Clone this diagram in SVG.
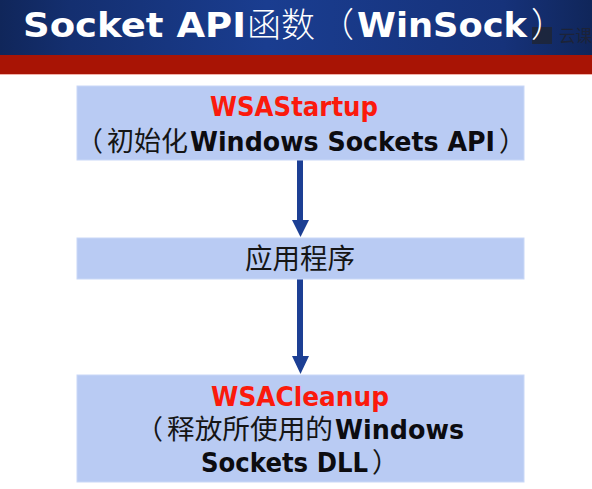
<svg xmlns="http://www.w3.org/2000/svg" width="592" height="489" viewBox="0 0 592 489">
<style>
.b{fill:#b9cbf3;stroke:#c9d8f7;stroke-width:1}
.l{font-family:"DejaVu Sans","Liberation Sans",sans-serif;font-weight:700;font-size:26px}
.c{font-family:"Noto Sans CJK SC","DejaVu Sans",sans-serif;font-weight:400;font-size:27px;fill:#151515}
.t{font-family:"DejaVu Sans","Liberation Sans",sans-serif;font-weight:700;font-size:34px;fill:#fff}
.u{font-family:"Noto Sans CJK SC","DejaVu Sans",sans-serif;font-weight:300;font-size:34px;fill:#fff}
.r{fill:#fb1a0c}
.k{fill:#0c0c10}
.a{fill:#1c3f94}
</style>
<defs><linearGradient id="g" x1="0" x2="1" y1="0" y2="0"><stop offset="0" stop-color="#10265a"/><stop offset=".12" stop-color="#142f70"/><stop offset=".45" stop-color="#1a3d90"/><stop offset=".85" stop-color="#16327a"/><stop offset="1" stop-color="#10265a"/></linearGradient></defs>
<rect width="592" height="489" fill="#fff"/>
<g id="header">
<rect width="592" height="55" fill="url(#g)"/>
<rect y="55" width="592" height="19" fill="#a81405"/>
<rect y="74" width="592" height="1" fill="#f0b0a8"/>
<rect x="532" y="27" width="20" height="17" fill="#1f2636" opacity=".85"/>
<text class="t" x="23" y="37" textLength="223" lengthAdjust="spacingAndGlyphs">Socket API</text>
<text class="u" x="247" y="37" textLength="68" lengthAdjust="spacingAndGlyphs">函数</text>
<text class="u" x="320" y="37">（</text>
<text class="t" x="357" y="37" textLength="170" lengthAdjust="spacingAndGlyphs">WinSock</text>
<text class="u" x="531" y="37">）</text>
<text x="559" y="42" font-family="Noto Sans CJK SC,sans-serif" font-size="16.500" fill="#1c2338">云课</text>
</g>
<g id="connectors">
<path class="a" d="M297 160h6v60h6l-8.500 17l-8.500-17h5z"/>
<path class="a" d="M297 279h6v77h6l-8.500 18l-8.500-18h5z"/>
</g>
<g id="startup">
<rect class="b" x="77" y="86" width="447" height="74"/>
<text class="l r" x="210" y="116" textLength="168" lengthAdjust="spacingAndGlyphs">WSAStartup</text>
<text class="c" x="76" y="151">（</text>
<text class="c" x="107" y="151" textLength="81" lengthAdjust="spacingAndGlyphs">初始化</text>
<text class="l k" x="190" y="151" textLength="305" lengthAdjust="spacingAndGlyphs">Windows Sockets API</text>
<text class="c" x="499" y="151">）</text>
</g>
<g id="app">
<rect class="b" x="77" y="238" width="447" height="41"/>
<text class="c" x="245" y="269" style="font-size:28px" textLength="110" lengthAdjust="spacingAndGlyphs">应用程序</text>
</g>
<g id="cleanup">
<rect class="b" x="77" y="375" width="447" height="107"/>
<text class="l r" x="211" y="406" textLength="178" lengthAdjust="spacingAndGlyphs">WSACleanup</text>
<text class="c" x="136" y="439">（</text>
<text class="c" x="167" y="439" textLength="166" lengthAdjust="spacingAndGlyphs">释放所使用的</text>
<text class="l k" x="335" y="439" textLength="129" lengthAdjust="spacingAndGlyphs">Windows</text>
<text class="l k" x="201" y="472" textLength="167" lengthAdjust="spacingAndGlyphs">Sockets DLL</text>
<text class="c" x="372" y="472">）</text>
</g>
</svg>
